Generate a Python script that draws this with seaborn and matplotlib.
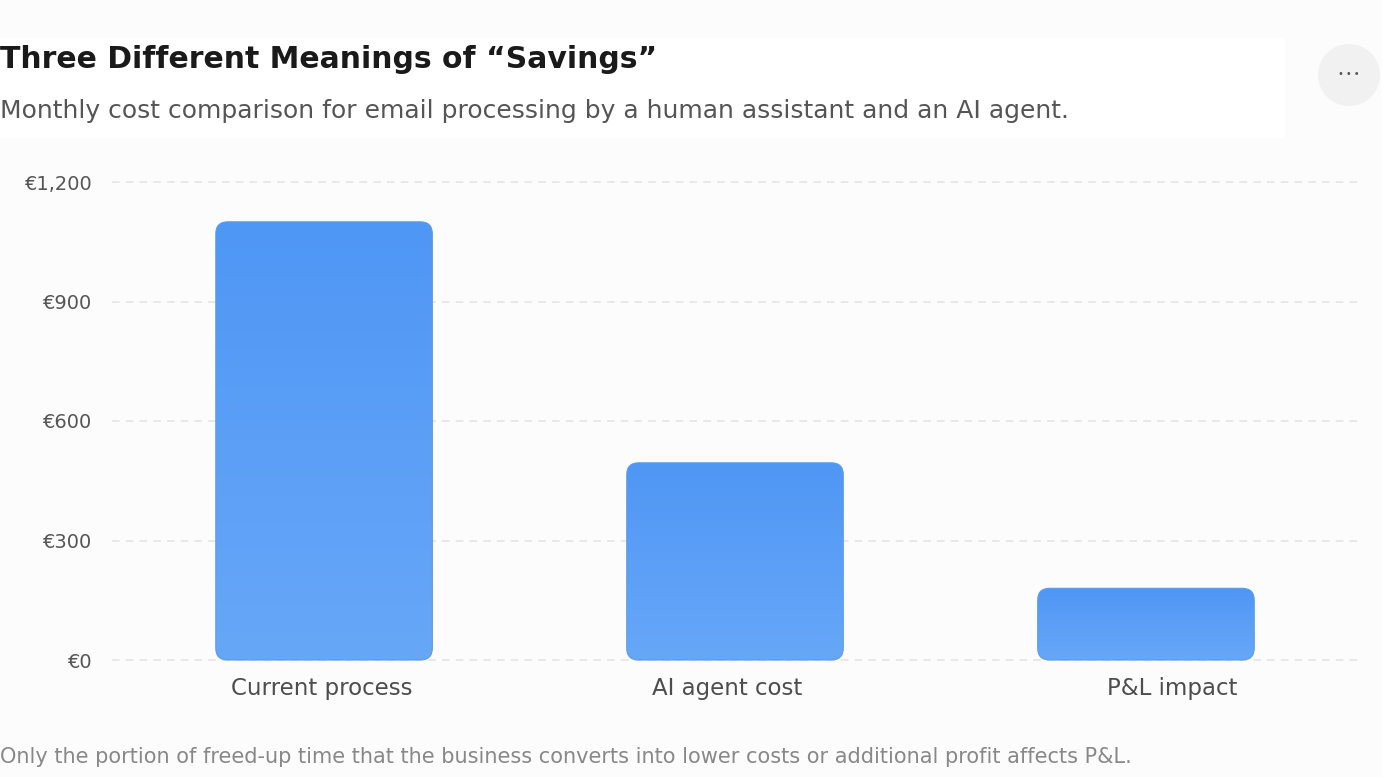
import numpy as np
import pandas as pd
import seaborn as sns
import matplotlib.pyplot as plt
from matplotlib.patches import FancyBboxPatch, Circle, Rectangle
from matplotlib.colors import LinearSegmentedColormap
import matplotlib.transforms as mtransforms

# data
categories = ["Current process", "AI agent cost", "P&L impact"]
monthly_cost = [1100, 495, 180]
y_ticks = [0, 300, 600, 900, 1200]
y_tick_labels = ["€0", "€300", "€600", "€900", "€1,200"]

title = "Three Different Meanings of \u201cSavings\u201d"
subtitle = "Monthly cost comparison for email processing by a human assistant and an AI agent."
footnote = ("Only the portion of freed-up time that the business converts into lower "
            "costs or additional profit affects P&L.")

df = pd.DataFrame({"category": categories, "cost": monthly_cost})

sns.set_theme(style="white")
plt.rcParams['font.family'] = ['DejaVu Sans']

W, H = 1382, 777
bg = "#fcfcfc"
fig = plt.figure(figsize=(W / 100, H / 100), dpi=100, facecolor=bg)

# axes placed in pixel terms
ax_l, ax_r, ax_t, ax_b = 112, 1358, 175, 665
ax = fig.add_axes([ax_l / W, 1 - ax_b / H, (ax_r - ax_l) / W, (ax_b - ax_t) / H])
ax.set_facecolor(bg)

sns.barplot(data=df, x="category", y="cost", ax=ax, width=0.527, color="#4f97f5")

# px per euro = 478 / 1200
ppe = 478 / 1200
ylim = (-(ax_b - 660) / ppe, 1200 + (182 - ax_t) / ppe)
xlim = (-0.516, 2.516)
ax.set_ylim(*ylim)
ax.set_xlim(*xlim)

for s in ax.spines.values():
    s.set_visible(False)
ax.set_yticks(y_ticks)
ax.set_yticklabels(y_tick_labels, fontsize=14, color="#555555")
ax.tick_params(axis="y", length=0, pad=14)
ax.set_xticks([])
ax.set_xlabel("")
ax.set_ylabel("")
for yv in y_ticks:
    ax.axhline(yv, color="#e2e2e2", lw=1.1, ls=(0, (5, 4)), zorder=0)

# rounded gradient bars replace seaborn's rectangles
px_per_x = (ax_r - ax_l) / (xlim[1] - xlim[0])
px_per_y = (ax_b - ax_t) / (ylim[1] - ylim[0])
r_px = 12
r_x = r_px / px_per_x
aspect = (r_px / px_per_y) / r_x
cmap = LinearSegmentedColormap.from_list("bar", ["#67a7f8", "#4f97f5"])
grad = np.linspace(0, 1, 256).reshape(-1, 1)

for p in list(ax.patches):
    x0, y0 = p.get_x(), p.get_y()
    w, h = p.get_width(), p.get_height()
    p.set_visible(False)
    fb = FancyBboxPatch((x0, y0), w, h,
                        boxstyle=f"round,pad=0,rounding_size={r_x}",
                        mutation_aspect=aspect, facecolor="none",
                        edgecolor="#5b9bea", lw=0.8, zorder=3)
    ax.add_patch(fb)
    im = ax.imshow(grad, extent=(x0, x0 + w, y0, y0 + h), origin="lower",
                   cmap=cmap, aspect="auto", zorder=2, interpolation="bicubic")
    im.set_clip_path(fb)

ax.set_xlim(*xlim)
ax.set_ylim(*ylim)

# category labels under the bars
label_nudge = [-0.005, -0.02, 0.065]
trans = mtransforms.blended_transform_factory(ax.transData, fig.transFigure)
for i, (c, n) in enumerate(zip(categories, label_nudge)):
    ax.text(i + n, 1 - 689 / H, c, transform=trans, ha="center", va="center",
            fontsize=16.5, color="#4d4d4d", clip_on=False)

# header
fig.patches.append(Rectangle((0, 1 - 138 / H), 1285 / W, 100 / H,
                             transform=fig.transFigure, fc="white", ec="none", zorder=0))
fig.text(0, 1 - 60 / H, title, fontsize=21.5, fontweight="bold", color="#1a1a1a",
         ha="left", va="center")
fig.text(0, 1 - 111 / H, subtitle, fontsize=18, color="#555555", ha="left", va="center")
fig.text(0, 1 - 757 / H, footnote, fontsize=15, color="#888888", ha="left", va="center")

# menu button
btn = Circle((13.49, (H - 75) / 100), 0.31, transform=fig.dpi_scale_trans,
             fc="#f1f1f1", ec="none")
fig.patches.append(btn)
fig.text(1349 / W, 1 - 74 / H, "\u2022\u2009\u2022\u2009\u2022", fontsize=7,
         color="#555555", ha="center", va="center")

fig.savefig("out.png", dpi=100, facecolor=bg)
